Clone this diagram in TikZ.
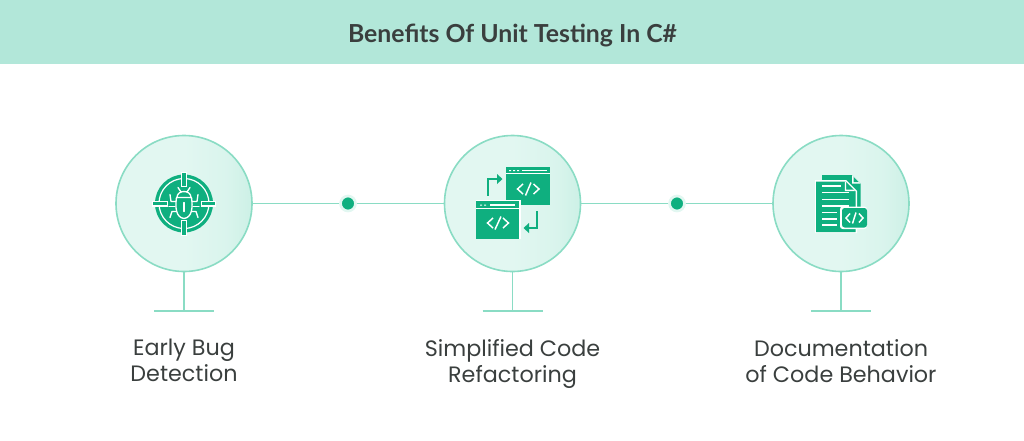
\documentclass[tikz,border=0pt]{standalone}
\usepackage{fontspec}
\setmainfont{Poppins}
\newfontfamily\titlefont{Lato}
\definecolor{band}{HTML}{B2E7D9}
\definecolor{ringc}{HTML}{8ADCC4}
\definecolor{icon}{HTML}{0FAF7F}
\definecolor{halo}{HTML}{E2F7F1}
\definecolor{ink}{HTML}{3A3F3E}
\pgfdeclarehorizontalshading{bubble}{100bp}{color(0bp)=(halo); color(50bp)=(halo); color(66bp)=(halo!90!ringc); color(100bp)=(halo!35!ringc)}
\newcommand{\lstr}{\rule[-5pt]{0pt}{16pt}}
\tikzset{
  bubblenode/.style={circle,minimum size=136*0.75pt,inner sep=0pt,draw=ringc,line width=1.2pt,shading=bubble},
  linkline/.style={draw=ringc,line width=1.3pt},
  dotnode/.style={circle,minimum size=15*0.75pt,inner sep=0pt,fill=icon,draw=halo,line width=2pt},
  labelnode/.style={align=center,text=ink,font=\fontsize{16.7}{19.5}\selectfont,inner sep=0pt},
  wl/.style={draw=white,line width=1pt,line cap=round,line join=round},
  gl/.style={draw=icon,line width=2.1pt,line join=miter},
  codeglyph/.style={draw=white,line width=1.1pt}
}
\begin{document}
\begin{tikzpicture}[x=0.75pt,y=-0.75pt]
\useasboundingbox (0,0) rectangle (1024,440);
\fill[band] (0,0) rectangle (1024,64);
\node[text=ink,font=\titlefont\bfseries\fontsize{18.6}{22}\selectfont,inner sep=0pt] (title) at (512.5,35) {Benefits Of Unit Testing In C\#};

\coordinate (base1) at (184,311);
\coordinate (base2) at (512.5,311);
\coordinate (base3) at (841,311);
\node[dotnode] (dot1) at (348,203.5) {};
\node[dotnode] (dot2) at (677,203.5) {};
\node[bubblenode] (c1) at (184,203.5) {};
\node[bubblenode] (c2) at (512.5,203.5) {};
\node[bubblenode] (c3) at (841,203.5) {};
\draw[linkline] (c1) -- (dot1);
\draw[linkline] (dot1) -- (c2);
\draw[linkline] (c2) -- (dot2);
\draw[linkline] (dot2) -- (c3);
\draw[linkline] (c1) -- (base1);
\draw[linkline] (c2) -- (base2);
\draw[linkline] (c3) -- (base3);
\draw[linkline] ([xshift=-22.5pt]base1) -- ([xshift=22.5pt]base1);
\draw[linkline] ([xshift=-22.5pt]base2) -- ([xshift=22.5pt]base2);
\draw[linkline] ([xshift=-22.5pt]base3) -- ([xshift=22.5pt]base3);

\node[labelnode] (l1) at (184,364) {\lstr Early Bug\\\lstr Detection};
\node[labelnode] (l2) at (512.5,364) {\lstr Simplified Code\\\lstr Refactoring};
\node[labelnode] (l3) at (841,364) {\lstr Documentation\\\lstr of Code Behavior};

% bug icon
\begin{scope}[shift={(184,203.5)}]
\fill[icon] (0,0) circle (29);
\draw[white,line width=0.9pt] (0,0) circle (25);
\foreach \a in {0,90,180,270}{
  \begin{scope}[rotate=\a]
  \fill[white] (-3,-32) rectangle (3,-16.5);
  \fill[icon] (-1.8,-31) rectangle (1.8,-17.5);
  \end{scope}
}
\draw[wl] (-7,-6) .. controls (-7,-14) and (7,-14) .. (7,-6);
\draw[wl] (-7.5,-6) -- (7.5,-6) .. controls (9,4) and (8,14) .. (0,15) .. controls (-8,14) and (-9,4) .. (-7.5,-6);
\draw[wl] (0,-1) -- (0,8);
\draw[wl] (-6,-16) -- (-3,-11.5) (6,-16) -- (3,-11.5);
\draw[wl] (-8,-2) -- (-13,-2) -- (-14,-9) (8,-2) -- (13,-2) -- (14,-9);
\draw[wl] (-9,3) -- (-15,3) (9,3) -- (15,3);
\draw[wl] (-8,8) -- (-12,8) -- (-14,14) (8,8) -- (12,8) -- (14,14);
\end{scope}

% refactoring icon
\fill[icon] (506,167) rectangle (550,205);
\fill[white] (509,170) rectangle (511,171) (513,170) rectangle (515,171) (517,170) rectangle (519,171);
\fill[white] (522,169.7) rectangle (547,171.4);
\fill[white] (506,173.4) rectangle (550,174.2);
\draw[codeglyph] (523,184) -- (517.5,189) -- (523,194) (525.5,195.5) -- (531,182.5) (533.5,184) -- (539,189) -- (533.5,194);
\fill[white] (476,199.8) rectangle (520.5,239);
\fill[icon] (476,201) rectangle (519,239);
\fill[white] (480,204.5) rectangle (482,205.5) (484,204.5) rectangle (486,205.5);
\fill[white] (490,204.2) rectangle (515,205.9);
\fill[white] (476,207.9) rectangle (519,208.7);
\draw[codeglyph] (493,218) -- (487.5,223) -- (493,228) (495,229.5) -- (501,216.5) (503,218) -- (508.5,223) -- (503,228);
\draw[gl] (488,195.5) -- (488,179) -- (498,179);
\fill[icon] (497,174) -- (502.5,179) -- (497,184) -- cycle;
\draw[gl] (537,211) -- (537,228) -- (528,228);
\fill[icon] (529,223) -- (523.5,228) -- (529,233) -- cycle;

% document icon
\fill[icon] (822,175) -- (852,175) -- (860.5,183.5) -- (860.5,226) -- (822,226) -- cycle;
\fill[white] (852,175) -- (852,183.5) -- (860.5,183.5) -- cycle;
\fill[icon] (853.5,177) -- (853.5,182) -- (858.5,182) -- cycle;
\fill[white] (815,180) -- (846,180) -- (857,191) -- (857,233) -- (815,233) -- cycle;
\fill[icon] (816,181.5) -- (845.5,181.5) -- (855.5,191.5) -- (855.5,232) -- (816,232) -- cycle;
\fill[white] (846,182) -- (846,189.5) -- (853.5,189.5) -- (855,191) -- (844.8,191) -- (844.8,181.5) -- cycle;
\foreach \y/\a in {186/841,192.7/849,199.3/849,206/849,212.7/837,219/837,225/837}{
  \fill[white] (821.5,\y-0.6) rectangle (\a,\y+0.6);
}
\fill[white,rounded corners=2pt] (840,206.5) rectangle (867,229);
\fill[icon,rounded corners=2pt] (842,208) rectangle (867,227.5);
\draw[codeglyph] (850,213.5) -- (846,218) -- (850,222.5) (852.5,223.5) -- (856,212.5) (859,213.5) -- (863,218) -- (859,222.5);
\end{tikzpicture}
\end{document}
